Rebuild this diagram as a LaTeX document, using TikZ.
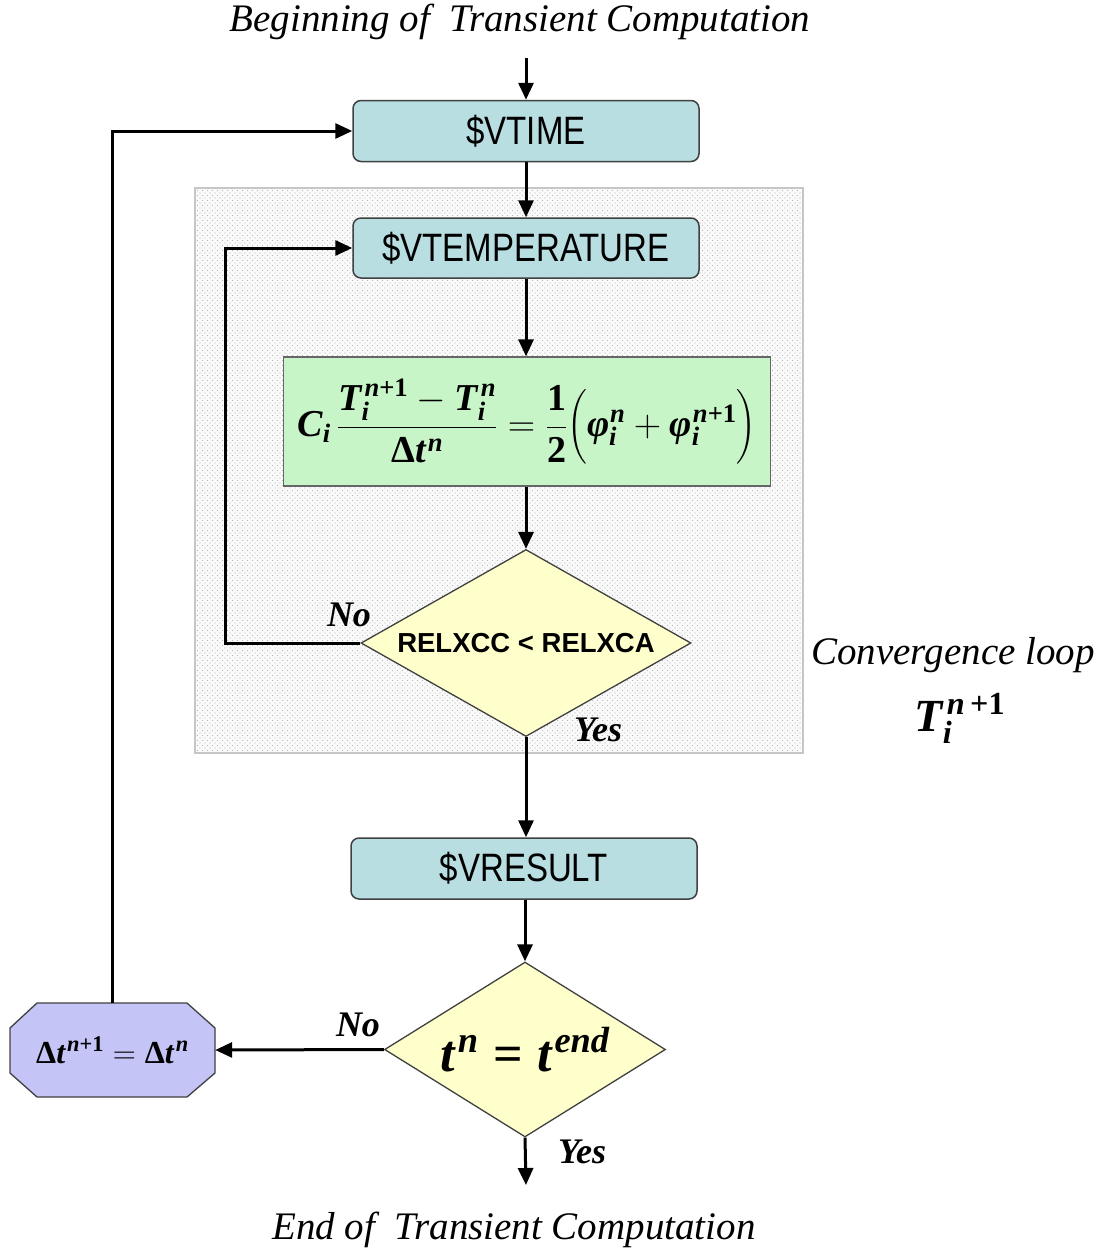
\RequirePackage{fix-cm}
\documentclass[tikz,border=0pt]{standalone}
\usepackage{amsmath}
\usepackage{fontspec}
\setmainfont{Liberation Serif}
\setsansfont{Liberation Sans}
\usetikzlibrary{shapes.geometric,arrows.meta,patterns}
\definecolor{teal1}{HTML}{B8DEE2}
\definecolor{green1}{HTML}{C8F5C8}
\definecolor{yellow1}{HTML}{FFFFCC}
\definecolor{lav1}{HTML}{C4C4F6}
\definecolor{edge1}{HTML}{404040}
\newcommand\bv[1]{\text{\bfseries\itshape #1}}
\newcommand\bu[1]{\text{\bfseries #1}}
\pgfdeclarepatternformonly{mydots}{\pgfqpoint{-1pt}{-1pt}}{\pgfqpoint{4pt}{4pt}}{\pgfqpoint{5pt}{5pt}}{%
  \pgfpathcircle{\pgfqpoint{0pt}{0pt}}{0.7pt}%
  \pgfpathcircle{\pgfqpoint{2.5pt}{2.5pt}}{0.7pt}%
  \pgfusepath{fill}}
\begin{document}
\begin{tikzpicture}[x=1pt,y=-1pt,
  arr/.style={line width=3pt,-{Triangle[length=17pt,width=15pt]}},
  procbox/.style={draw=edge1,line width=1.5pt,fill=teal1,rounded corners=8pt,
    minimum width=346pt,minimum height=61pt,inner sep=0pt,
    font=\sffamily\fontsize{33}{36}\selectfont},
  decide/.style={diamond,draw=edge1,line width=1.3pt,fill=yellow1,inner sep=0pt},
  lbl/.style={font=\bfseries\itshape\fontsize{36}{40}\selectfont,inner sep=0pt},
  ttl/.style={font=\itshape\fontsize{39}{42}\selectfont,inner sep=0pt}]
\useasboundingbox (0,0) rectangle (1101,1253);
% convergence region
\fill[gray!4] (195,188) rectangle (803,753);
\fill[pattern=mydots,pattern color=gray!55] (195,188) rectangle (803,753);
\draw[gray!45,line width=1.5pt] (195,188) rectangle (803,753);

\node[ttl] (begin) at (520,22) {Beginning of\ \ Transient Computation};
\coordinate (start) at (526,58);
\node[procbox] (vtime) at (526,131) {\scalebox{1}[1.2]{\$VTIME}};
\node[procbox,minimum height=60pt] (vtemp) at (526,248) {\scalebox{1}[1.2]{\$VTEMPERATURE}};
\node[draw=gray!80!black,line width=1.3pt,fill=green1,minimum width=487pt,minimum height=129pt,inner sep=0pt,
  font=\fontsize{38}{44}\selectfont] (eq) at (527,421.5)
  {$\bv{C}_{\bv{i}}\,\dfrac{\bv{T}_{\bv{i}}^{\kern3pt\bv{n}\bu{+1}}-\bv{T}_{\bv{i}}^{\kern3pt\bv{n}}}{\bu{Δ}\bv{t}^{\kern2pt\bv{n}}}
   =\dfrac{\bu{1}}{\bu{2}}\Big(\bv{φ}_{\bv{i}}^{\kern1pt\bv{n}}+\bv{φ}_{\bv{i}}^{\kern1pt\bv{n}\bu{+1}}\Big)$};
\node[decide,aspect=1.76,minimum width=330pt,minimum height=187pt,font=\sffamily\bfseries\fontsize{27.5}{30}\selectfont] (d1) at (526,643) {RELXCC < RELXCA};
\node[procbox] (vresult) at (524,868.5) {\scalebox{1}[1.2]{\$VRESULT}};
\node[decide,aspect=1.6,minimum width=281pt,minimum height=175pt,font=\fontsize{52}{56}\selectfont] (d2) at (525,1049.5)
  {$\bv{t}^{\kern3pt\bv{n}}\mathrel{\bu{=}}\bv{t}^{\kern3pt\bv{end}}$};
\draw[draw=edge1,line width=1.3pt,fill=lav1]
  (37,1003) -- (187,1003) -- (215,1028) -- (215,1073) -- (187,1097) -- (37,1097) -- (10,1073) -- (10,1028) -- cycle;
\node[minimum width=205pt,minimum height=94pt,inner sep=0pt,font=\fontsize{32}{36}\selectfont] (oct) at (112.5,1050)
  {$\bu{Δ}\bv{t}^{\kern2pt\bv{n}\bu{+1}}=\bu{Δ}\bv{t}^{\kern2pt\bv{n}}$};
\coordinate (endc) at (526,1185);
\node[ttl] (endt) at (514,1230) {End of\ \ Transient Computation};
\node[ttl] (conv) at (953,655) {Convergence loop};
\node[inner sep=0pt,font=\fontsize{46}{50}\selectfont] (tconv) at (960,718)
  {$\bv{T}_{\bv{i}}^{\kern4pt\bv{n}\,\bu{+}\bu{1}}$};

\node[lbl] (no1) at (349,615) {No};
\node[lbl] (yes1) at (598,730) {Yes};
\node[lbl] (no2) at (358,1025) {No};
\node[lbl] (yes2) at (582,1152) {Yes};

% connectors
\draw[arr] (start) -- (vtime.north);
\draw[arr] (vtime.south) -- (vtemp.north);
\draw[arr] (vtemp.south) -- (vtemp.south |- eq.north);
\draw[arr] (eq.south -| d1.north) -- (d1.north);
\coordinate (l1) at (225,643);
\draw[arr] (d1.west) -- (l1) |- (vtemp.west);
\draw[arr] (d1.south) -- (d1.south |- vresult.north);
\draw[arr] (vresult.south -| d2.north) -- (d2.north);
\draw[arr] (d2.west) -- (oct.east);
\draw[arr] (oct.north) |- (vtime.west);
\draw[arr] (d2.south) -- (endc);
\end{tikzpicture}
\end{document}
